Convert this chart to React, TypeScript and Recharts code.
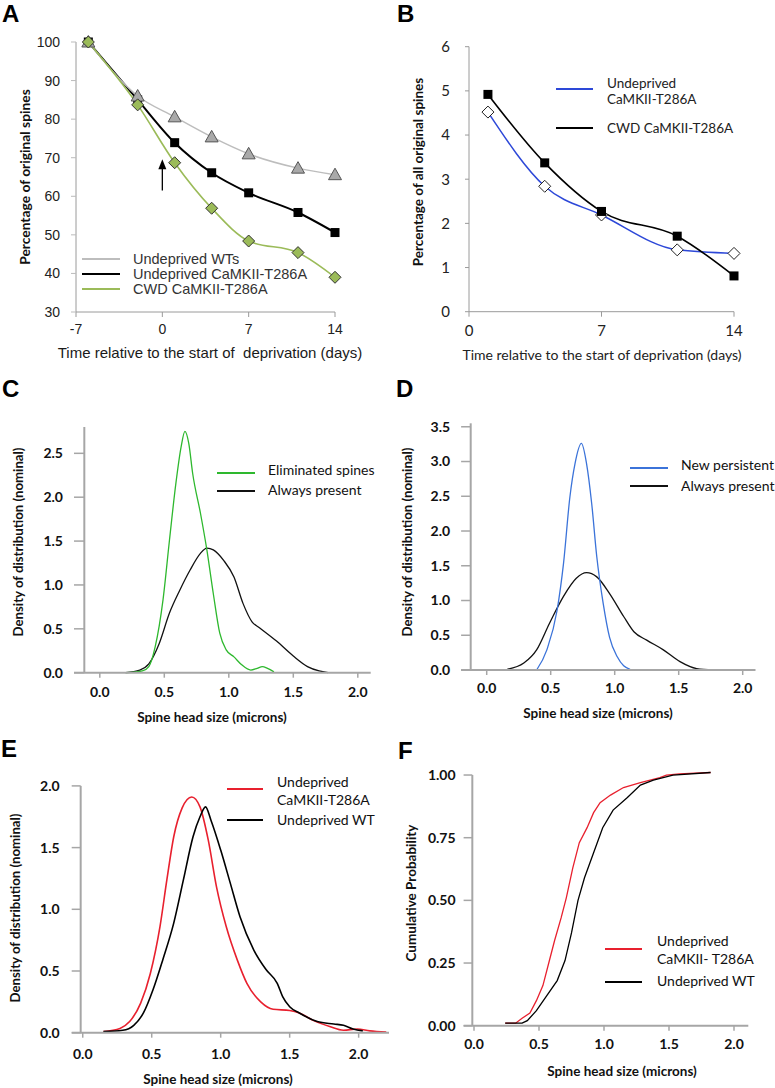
import React from 'react';
import { LineChart, Line, XAxis, YAxis, ReferenceLine, Legend, Label } from 'recharts';

// ---------- Panel A ----------
const daysA = [-6, -2, 1, 4, 7, 11, 14];
const wtA = [100, 86, 80.6, 75.4, 71, 67.3, 65.6];
const t286A = [100, 85, 73.9, 66.1, 60.9, 55.8, 50.6];
const cwdA = [100, 83.7, 68.7, 56.9, 48.4, 45.4, 39];
const arrowXA = [0, 0];
const arrowYA = [61.5, 68.8];
const xTicksA = [-7, 0, 7, 14];
const yTicksA = [30, 40, 50, 60, 70, 80, 90, 100];

// ---------- Panel B ----------
const daysB = [1, 4, 7, 11, 14];
const undepB = [4.52, 2.84, 2.19, 1.4, 1.32];
const cwdB = [4.92, 3.37, 2.27, 1.71, 0.81];
const xTicksB = [0, 7, 14];
const yTicksB = [0, 1, 2, 3, 4, 5, 6];

// ---------- Panel C ----------
const elimCX = [0.2, 0.28, 0.33, 0.38, 0.43, 0.49, 0.54, 0.59, 0.63, 0.66, 0.69, 0.72, 0.78, 0.83, 0.88, 0.93, 0.98, 1.04, 1.1, 1.17, 1.22, 1.26, 1.3, 1.35];
const elimCY = [0, 0.01, 0.02, 0.07, 0.3, 0.83, 1.51, 2.16, 2.57, 2.75, 2.61, 2.27, 1.82, 1.4, 0.9, 0.45, 0.26, 0.18, 0.09, 0.03, 0.05, 0.07, 0.05, 0.01];
const alwaysCX = [0.2, 0.31, 0.38, 0.46, 0.54, 0.62, 0.7, 0.78, 0.83, 0.88, 0.96, 1.04, 1.11, 1.18, 1.24, 1.37, 1.5, 1.61, 1.7, 1.77];
const alwaysCY = [0, 0.03, 0.1, 0.33, 0.68, 0.94, 1.17, 1.36, 1.42, 1.4, 1.28, 1.09, 0.79, 0.58, 0.51, 0.36, 0.19, 0.07, 0.02, 0];
const yTicksC = [0, 0.5, 1, 1.5, 2, 2.5];

// ---------- Panel D ----------
const newDX = [0.39, 0.47, 0.55, 0.6, 0.65, 0.69, 0.74, 0.78, 0.82, 0.86, 0.91, 0.96, 1.02, 1.07, 1.12];
const newDY = [0, 0.29, 0.86, 1.53, 2.49, 2.97, 3.26, 2.97, 2.4, 1.63, 0.96, 0.47, 0.19, 0.06, 0.01];
const alwaysDX = [0.16, 0.29, 0.39, 0.49, 0.6, 0.7, 0.78, 0.86, 0.96, 1.07, 1.15, 1.25, 1.38, 1.51, 1.64, 1.77];
const alwaysDY = [0.01, 0.1, 0.29, 0.67, 1.06, 1.32, 1.4, 1.34, 1.1, 0.77, 0.55, 0.43, 0.29, 0.12, 0.02, 0];
const yTicksD = [0, 0.5, 1, 1.5, 2, 2.5, 3, 3.5];

// ---------- Panel E ----------
const mutEX = [0.15, 0.27, 0.34, 0.42, 0.49, 0.56, 0.61, 0.66, 0.72, 0.79, 0.85, 0.91, 0.97, 1.04, 1.12, 1.19, 1.29, 1.38, 1.5, 1.57, 1.67, 1.79, 1.89, 1.99, 2.08, 2.2];
const mutEY = [0.01, 0.035, 0.09, 0.24, 0.48, 0.86, 1.24, 1.59, 1.82, 1.91, 1.83, 1.56, 1.18, 0.86, 0.59, 0.4, 0.25, 0.19, 0.18, 0.16, 0.1, 0.05, 0.02, 0.03, 0.015, 0.005];
const wtEX = [0.15, 0.29, 0.37, 0.44, 0.51, 0.58, 0.66, 0.73, 0.8, 0.85, 0.89, 0.93, 1.0, 1.07, 1.14, 1.24, 1.33, 1.41, 1.45, 1.5, 1.57, 1.7, 1.82, 1.89, 1.96, 2.03];
const wtEY = [0.01, 0.02, 0.06, 0.16, 0.35, 0.59, 0.89, 1.24, 1.59, 1.75, 1.83, 1.72, 1.48, 1.21, 0.94, 0.67, 0.51, 0.4, 0.29, 0.21, 0.16, 0.09, 0.07, 0.06, 0.03, 0.015];
const yTicksE = [0, 0.5, 1, 1.5, 2];

// ---------- Panel F ----------
const mutFX = [0.24, 0.32, 0.37, 0.43, 0.48, 0.53, 0.58, 0.62, 0.67, 0.71, 0.76, 0.81, 0.87, 0.92, 0.97, 1.05, 1.15, 1.28, 1.43, 1.48, 1.58, 1.82];
const mutFY = [0.01, 0.01, 0.03, 0.05, 0.1, 0.16, 0.26, 0.34, 0.43, 0.51, 0.63, 0.73, 0.79, 0.85, 0.89, 0.92, 0.95, 0.97, 0.99, 1.0, 1.005, 1.01];
const wtFX = [0.24, 0.37, 0.41, 0.48, 0.56, 0.64, 0.7, 0.75, 0.8, 0.85, 0.92, 0.99, 1.07, 1.18, 1.28, 1.38, 1.53, 1.82];
const wtFY = [0.01, 0.01, 0.02, 0.06, 0.12, 0.18, 0.26, 0.37, 0.5, 0.59, 0.69, 0.79, 0.86, 0.91, 0.96, 0.98, 1.0, 1.01];
const yTicksF = [0, 0.25, 0.5, 0.75, 1];

const sizeTicks = [0, 0.5, 1, 1.5, 2];

// ---------- helpers ----------
const pts = (xs: number[], ys: number[]) => xs.map((x, i) => ({ x, y: ys[i] }));
const GRAY = '#a6a6a6';
const CAL = 'Lato, "Open Sans", sans-serif';
const ARIAL = '"Liberation Sans", Arial, sans-serif';

const title = (text: string, x: number, y: number, rot: boolean, style: React.CSSProperties) => (
  <Label
    content={() => (
      <text
        x={x}
        y={y}
        transform={rot ? `rotate(-90 ${x} ${y})` : undefined}
        textAnchor="middle"
        dominantBaseline="central"
        style={{ whiteSpace: 'pre', ...style }}
      >
        {text}
      </text>
    )}
  />
);

type LegRow = { color: string; lineY: number; texts: { t: string; y: number }[] };
const makeLegend = (
  w: number,
  h: number,
  x1: number,
  x2: number,
  tx: number,
  rows: LegRow[],
  font: React.CSSProperties,
  lw: number
) => (
  <Legend
    layout="vertical"
    align="center"
    verticalAlign="middle"
    wrapperStyle={{ left: 0, top: 0, width: w, height: h, pointerEvents: 'none' }}
    content={() => (
      <div style={{ position: 'relative', width: w, height: h }}>
        {rows.map((r, i) => (
          <React.Fragment key={i}>
            <div
              style={{
                position: 'absolute',
                left: x1,
                width: x2 - x1,
                top: r.lineY - lw / 2,
                height: lw,
                background: r.color,
              }}
            />
            {r.texts.map((t, j) => (
              <div
                key={j}
                style={{
                  position: 'absolute',
                  left: tx,
                  top: t.y - 9,
                  lineHeight: '18px',
                  whiteSpace: 'pre',
                  ...font,
                }}
              >
                {t.t}
              </div>
            ))}
          </React.Fragment>
        ))}
      </div>
    )}
  />
);

const yAxisRefs = (ax: number, left: number, ticks: number[], top: number) => [
  <ReferenceLine
    key="axis"
    segment={[
      { x: ax, y: 0 },
      { x: ax, y: top },
    ]}
    stroke={GRAY}
    strokeWidth={2}
  />,
  ...ticks.map((t) => (
    <ReferenceLine
      key={'t' + t}
      segment={[
        { x: left, y: t },
        { x: ax, y: t },
      ]}
      stroke={GRAY}
      strokeWidth={1.5}
    />
  )),
];

const Triangle = (p: any) => {
  const { cx, cy, index } = p;
  if (cx == null || cy == null) return <g key={'tr' + index} />;
  return (
    <polygon
      key={'tr' + index}
      points={`${cx},${cy - 6.5} ${cx - 6.5},${cy + 5} ${cx + 6.5},${cy + 5}`}
      fill="#a9a9a9"
      stroke="#555"
      strokeWidth={1}
    />
  );
};
const Square = (p: any) => {
  const { cx, cy, index } = p;
  if (cx == null || cy == null) return <g key={'sq' + index} />;
  return <rect key={'sq' + index} x={cx - 4.5} y={cy - 4.5} width={9} height={9} fill="#000" />;
};
const GreenDiamond = (p: any) => {
  const { cx, cy, index } = p;
  if (cx == null || cy == null) return <g key={'gd' + index} />;
  return (
    <polygon
      key={'gd' + index}
      points={`${cx},${cy - 6} ${cx + 6},${cy} ${cx},${cy + 6} ${cx - 6},${cy}`}
      fill="#9bbb59"
      stroke="#333"
      strokeWidth={1}
    />
  );
};
const OpenDiamond = (p: any) => {
  const { cx, cy, index } = p;
  if (cx == null || cy == null) return <g key={'od' + index} />;
  return (
    <polygon
      key={'od' + index}
      points={`${cx},${cy - 6} ${cx + 6},${cy} ${cx},${cy + 6} ${cx - 6},${cy}`}
      fill="#fff"
      stroke="#222"
      strokeWidth={1}
    />
  );
};
const ArrowHead = (p: any) => {
  const { cx, cy, index } = p;
  if (index !== 1 || cx == null || cy == null) return <g key={'ah' + index} />;
  return <polygon key={'ah' + index} points={`${cx},${cy - 3} ${cx - 4},${cy + 7} ${cx + 4},${cy + 7}`} fill="#000" />;
};

const letterStyle: React.CSSProperties = {
  position: 'absolute',
  fontFamily: ARIAL,
  fontWeight: 700,
  fontSize: 24,
  lineHeight: '24px',
  color: '#000',
};

const boldTick = { fontSize: 14, fontWeight: 700, fill: '#111', fontFamily: CAL };
const titleStyle: React.CSSProperties = { fontSize: 13.5, fontWeight: 700, fill: '#111', fontFamily: CAL };
const densTitle: React.CSSProperties = { ...titleStyle, fontSize: 13.2 };
const legFontCal: React.CSSProperties = { fontSize: 14, fontFamily: CAL, color: '#111' };
const fmt1 = (v: number) => v.toFixed(1);
const fmt2 = (v: number) => v.toFixed(2);

export default function App() {
  return (
    <div style={{ position: 'absolute', left: 0, top: 0, width: 775, height: 1088, background: '#fff' }}>
      <div style={{ ...letterStyle, left: 2, top: 2 }}>A</div>
      <div style={{ ...letterStyle, left: 397, top: 2 }}>B</div>
      <div style={{ ...letterStyle, left: 2, top: 377 }}>C</div>
      <div style={{ ...letterStyle, left: 396, top: 377 }}>D</div>
      <div style={{ ...letterStyle, left: 1, top: 737 }}>E</div>
      <div style={{ ...letterStyle, left: 398, top: 739 }}>F</div>

      {/* Panel A */}
      <div style={{ position: 'absolute', left: 0, top: 0 }}>
        <LineChart width={388} height={370} margin={{ top: 42, right: 53, left: 0, bottom: 0 }}>
          <XAxis
            type="number"
            dataKey="x"
            domain={[-7, 14]}
            ticks={xTicksA}
            interval={0}
            height={58}
            tickSize={5}
            tickMargin={7}
            axisLine={{ stroke: '#9a9a9a' }}
            tickLine={{ stroke: '#9a9a9a' }}
            tick={{ fontSize: 14, fill: '#222', fontFamily: ARIAL }}
          >
            {title('Time relative to the start of  deprivation (days)', 210, 352, false, {
              fontSize: 15,
              fill: '#1a1a1a',
              fontFamily: ARIAL,
            })}
          </XAxis>
          <YAxis
            type="number"
            domain={[30, 100]}
            ticks={yTicksA}
            interval={0}
            width={76}
            tickSize={5}
            tickMargin={11}
            axisLine={{ stroke: '#9a9a9a' }}
            tickLine={{ stroke: '#bbb' }}
            tick={{ fontSize: 14, fill: '#222', fontFamily: ARIAL }}
          >
            {title('Percentage of original spines', 24, 177, true, { ...titleStyle, fontSize: 13.8 })}
          </YAxis>
          <Line
            data={pts(daysA, t286A)}
            dataKey="y"
            type="monotone"
            stroke="#000"
            strokeWidth={2}
            dot={Square}
            activeDot={false}
            isAnimationActive={false}
          />
          <Line
            data={pts(daysA, wtA)}
            dataKey="y"
            type="monotone"
            stroke="#bdbdbd"
            strokeWidth={1.5}
            dot={Triangle}
            activeDot={false}
            isAnimationActive={false}
          />
          <Line
            data={pts(daysA, cwdA)}
            dataKey="y"
            type="monotone"
            stroke="#9bbb59"
            strokeWidth={1.6}
            dot={GreenDiamond}
            activeDot={false}
            isAnimationActive={false}
          />
          <Line
            data={pts(arrowXA, arrowYA)}
            dataKey="y"
            type="linear"
            stroke="#000"
            strokeWidth={1.3}
            dot={ArrowHead}
            activeDot={false}
            isAnimationActive={false}
          />
          {makeLegend(
            388,
            370,
            82,
            120,
            133,
            [
              { color: '#bdbdbd', lineY: 259, texts: [{ t: 'Undeprived WTs', y: 259 }] },
              { color: '#000', lineY: 274, texts: [{ t: 'Undeprived CaMKII-T286A', y: 274 }] },
              { color: '#9bbb59', lineY: 289, texts: [{ t: 'CWD CaMKII-T286A', y: 289 }] },
            ],
            { fontSize: 14.5, fontFamily: ARIAL, color: '#333' },
            1.8
          )}
        </LineChart>
      </div>

      {/* Panel B */}
      <div style={{ position: 'absolute', left: 390, top: 0 }}>
        <LineChart width={385} height={370} margin={{ top: 46.7, right: 41, left: 0, bottom: 0 }}>
          <XAxis
            type="number"
            dataKey="x"
            domain={[0, 14]}
            ticks={xTicksB}
            interval={0}
            height={58.3}
            tickSize={5}
            tickMargin={9}
            axisLine={{ stroke: '#9a9a9a' }}
            tickLine={{ stroke: '#9a9a9a' }}
            tick={{ fontSize: 15, fill: '#222', fontFamily: CAL }}
          >
            {title('Time relative to the start of deprivation (days)', 212, 354, false, {
              fontSize: 14,
              fill: '#222',
              fontFamily: CAL,
            })}
          </XAxis>
          <YAxis
            type="number"
            domain={[0, 6]}
            ticks={yTicksB}
            interval={0}
            width={79}
            tickSize={4}
            tickMargin={15}
            axisLine={{ stroke: '#9a9a9a' }}
            tickLine={{ stroke: '#9a9a9a' }}
            tick={{ fontSize: 15, fill: '#222', fontFamily: CAL }}
          >
            {title('Percentage of all original spines', 28, 172, true, { ...titleStyle, fontSize: 13.5 })}
          </YAxis>
          <Line
            data={pts(daysB, undepB)}
            dataKey="y"
            type="monotone"
            stroke="#2d48d8"
            strokeWidth={1.5}
            dot={OpenDiamond}
            activeDot={false}
            isAnimationActive={false}
          />
          <Line
            data={pts(daysB, cwdB)}
            dataKey="y"
            type="monotone"
            stroke="#000"
            strokeWidth={1.6}
            dot={Square}
            activeDot={false}
            isAnimationActive={false}
          />
          {makeLegend(
            385,
            370,
            166,
            203,
            217,
            [
              {
                color: '#2d48d8',
                lineY: 89.3,
                texts: [
                  { t: 'Undeprived', y: 82.7 },
                  { t: 'CaMKII-T286A', y: 99 },
                ],
              },
              { color: '#000', lineY: 127.7, texts: [{ t: 'CWD CaMKII-T286A', y: 127.7 }] },
            ],
            { fontSize: 13.5, fontFamily: CAL, color: '#222' },
            2
          )}
        </LineChart>
      </div>

      {/* Panel C */}
      <div style={{ position: 'absolute', left: 0, top: 380 }}>
        <LineChart width={390} height={345} margin={{ top: 47, right: 19.3, left: 0, bottom: 0 }}>
          <XAxis
            type="number"
            dataKey="x"
            domain={[-0.2, 2.1]}
            ticks={sizeTicks}
            interval={0}
            height={52.3}
            tickFormatter={fmt1}
            tickSize={5}
            tickMargin={9}
            axisLine={{ stroke: GRAY, strokeWidth: 2 }}
            tickLine={{ stroke: GRAY, strokeWidth: 1.5 }}
            tick={boldTick}
          >
            {title('Spine head size (microns)', 212, 337, false, titleStyle)}
          </XAxis>
          <YAxis
            type="number"
            domain={[0, 2.8]}
            ticks={yTicksC}
            interval={0}
            width={74}
            tickFormatter={fmt1}
            tickSize={0}
            tickMargin={11}
            axisLine={false}
            tickLine={false}
            tick={boldTick}
          >
            {title('Density of distribution (nominal)', 18, 162, true, densTitle)}
          </YAxis>
          {yAxisRefs(-0.12, -0.2, yTicksC, 2.8)}
          <Line
            data={pts(alwaysCX, alwaysCY)}
            dataKey="y"
            type="monotone"
            stroke="#111"
            strokeWidth={1.3}
            dot={false}
            activeDot={false}
            isAnimationActive={false}
          />
          <Line
            data={pts(elimCX, elimCY)}
            dataKey="y"
            type="monotone"
            stroke="#2eb82e"
            strokeWidth={1.3}
            dot={false}
            activeDot={false}
            isAnimationActive={false}
          />
          {makeLegend(
            390,
            345,
            217,
            255,
            268,
            [
              { color: '#2eb82e', lineY: 92.7, texts: [{ t: 'Eliminated spines', y: 90 }] },
              { color: '#111', lineY: 111, texts: [{ t: 'Always present', y: 110 }] },
            ],
            legFontCal,
            1.8
          )}
        </LineChart>
      </div>

      {/* Panel D */}
      <div style={{ position: 'absolute', left: 390, top: 380 }}>
        <LineChart width={385} height={345} margin={{ top: 43.3, right: 19.5, left: 0, bottom: 0 }}>
          <XAxis
            type="number"
            dataKey="x"
            domain={[-0.2, 2.1]}
            ticks={sizeTicks}
            interval={0}
            height={55}
            tickFormatter={fmt1}
            tickSize={5}
            tickMargin={8}
            axisLine={{ stroke: GRAY, strokeWidth: 2 }}
            tickLine={{ stroke: GRAY, strokeWidth: 1.5 }}
            tick={boldTick}
          >
            {title('Spine head size (microns)', 208, 333, false, titleStyle)}
          </XAxis>
          <YAxis
            type="number"
            domain={[0, 3.55]}
            ticks={yTicksD}
            interval={0}
            width={71.1}
            tickFormatter={fmt1}
            tickSize={0}
            tickMargin={11}
            axisLine={false}
            tickLine={false}
            tick={boldTick}
          >
            {title('Density of distribution (nominal)', 17, 162, true, densTitle)}
          </YAxis>
          {yAxisRefs(-0.125, -0.2, yTicksD, 3.55)}
          <Line
            data={pts(alwaysDX, alwaysDY)}
            dataKey="y"
            type="monotone"
            stroke="#111"
            strokeWidth={1.3}
            dot={false}
            activeDot={false}
            isAnimationActive={false}
          />
          <Line
            data={pts(newDX, newDY)}
            dataKey="y"
            type="monotone"
            stroke="#3b73d9"
            strokeWidth={1.3}
            dot={false}
            activeDot={false}
            isAnimationActive={false}
          />
          {makeLegend(
            385,
            345,
            240,
            278,
            291,
            [
              { color: '#3b73d9', lineY: 87.7, texts: [{ t: 'New persistent', y: 85 }] },
              { color: '#111', lineY: 106, texts: [{ t: 'Always present', y: 106 }] },
            ],
            legFontCal,
            1.8
          )}
        </LineChart>
      </div>

      {/* Panel E */}
      <div style={{ position: 'absolute', left: 0, top: 730 }}>
        <LineChart width={390} height={358} margin={{ top: 55.9, right: 1, left: 0, bottom: 0 }}>
          <XAxis
            type="number"
            dataKey="x"
            domain={[-0.08, 2.22]}
            ticks={sizeTicks}
            interval={0}
            height={55.3}
            tickFormatter={fmt1}
            tickSize={5}
            tickMargin={11}
            axisLine={{ stroke: GRAY, strokeWidth: 2 }}
            tickLine={{ stroke: GRAY, strokeWidth: 1.5 }}
            tick={boldTick}
          >
            {title('Spine head size (microns)', 218, 349, false, titleStyle)}
          </XAxis>
          <YAxis
            type="number"
            domain={[0, 2]}
            ticks={yTicksE}
            interval={0}
            width={71.7}
            tickFormatter={fmt1}
            tickSize={0}
            tickMargin={12}
            axisLine={false}
            tickLine={false}
            tick={boldTick}
          >
            {title('Density of distribution (nominal)', 15, 178, true, densTitle)}
          </YAxis>
          {yAxisRefs(-0.015, -0.08, yTicksE, 2)}
          <Line
            data={pts(mutEX, mutEY)}
            dataKey="y"
            type="monotone"
            stroke="#e8202e"
            strokeWidth={1.6}
            dot={false}
            activeDot={false}
            isAnimationActive={false}
          />
          <Line
            data={pts(wtEX, wtEY)}
            dataKey="y"
            type="monotone"
            stroke="#000"
            strokeWidth={1.6}
            dot={false}
            activeDot={false}
            isAnimationActive={false}
          />
          {makeLegend(
            390,
            358,
            227,
            263,
            277,
            [
              {
                color: '#e8202e',
                lineY: 59,
                texts: [
                  { t: 'Undeprived', y: 51.7 },
                  { t: 'CaMKII-T286A', y: 70 },
                ],
              },
              { color: '#000', lineY: 90, texts: [{ t: 'Undeprived WT', y: 90 }] },
            ],
            legFontCal,
            1.8
          )}
        </LineChart>
      </div>

      {/* Panel F */}
      <div style={{ position: 'absolute', left: 390, top: 730 }}>
        <LineChart width={385} height={358} margin={{ top: 35, right: 26.7, left: 0, bottom: 0 }}>
          <XAxis
            type="number"
            dataKey="x"
            domain={[-0.08, 2.11]}
            ticks={sizeTicks}
            interval={0}
            height={62.3}
            tickFormatter={fmt1}
            tickSize={5}
            tickMargin={8}
            axisLine={{ stroke: GRAY, strokeWidth: 2 }}
            tickLine={{ stroke: GRAY, strokeWidth: 1.5 }}
            tick={boldTick}
          >
            {title('Spine head size (microns)', 232, 341, false, titleStyle)}
          </XAxis>
          <YAxis
            type="number"
            domain={[0, 1.04]}
            ticks={yTicksF}
            interval={0}
            width={73.6}
            tickFormatter={fmt2}
            tickSize={0}
            tickMargin={8}
            axisLine={false}
            tickLine={false}
            tick={boldTick}
          >
            {title('Cumulative Probability', 21, 163, true, titleStyle)}
          </YAxis>
          {yAxisRefs(-0.013, -0.08, yTicksF, 1.0)}
          <Line
            data={pts(mutFX, mutFY)}
            dataKey="y"
            type="linear"
            stroke="#e8202e"
            strokeWidth={1.3}
            dot={false}
            activeDot={false}
            isAnimationActive={false}
          />
          <Line
            data={pts(wtFX, wtFY)}
            dataKey="y"
            type="linear"
            stroke="#000"
            strokeWidth={1.3}
            dot={false}
            activeDot={false}
            isAnimationActive={false}
          />
          {makeLegend(
            385,
            358,
            215,
            252,
            267,
            [
              {
                color: '#e8202e',
                lineY: 218.7,
                texts: [
                  { t: 'Undeprived', y: 210.7 },
                  { t: 'CaMKII- T286A', y: 229.3 },
                ],
              },
              { color: '#000', lineY: 251.7, texts: [{ t: 'Undeprived WT', y: 251 }] },
            ],
            legFontCal,
            1.8
          )}
        </LineChart>
      </div>
    </div>
  );
}
